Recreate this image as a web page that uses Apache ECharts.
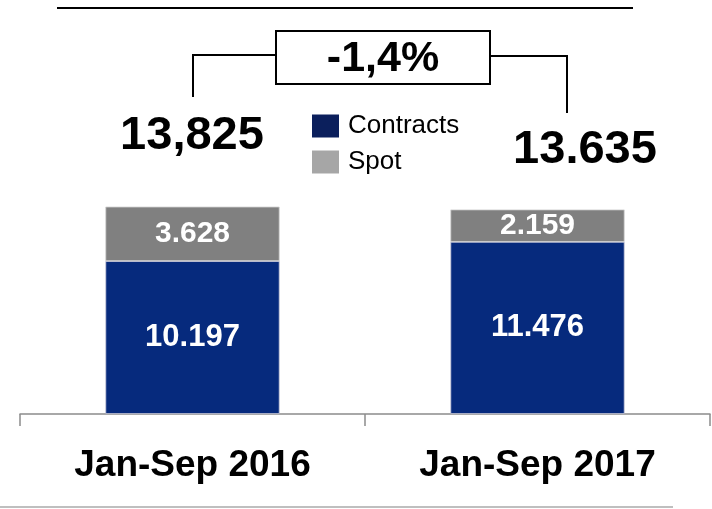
<!DOCTYPE html>
<html>
<head>
<meta charset="utf-8">
<script src="https://cdn.jsdelivr.net/npm/echarts@6/dist/echarts.min.js"></script>
<style>
html,body{margin:0;padding:0;background:#fff;}
#chart{width:712px;height:509px;}
</style>
</head>
<body>
<div id="chart"></div>
<script>
const categories = ['Jan-Sep 2016', 'Jan-Sep 2017'];
const contracts = [10197, 11476];
const spot = [3628, 2159];
const totalLabels = ['13,825', '13.635'];
const changeLabel = '-1,4%';
const seriesNames = ['Contracts', 'Spot'];

const FONT = '"Liberation Sans", Arial, sans-serif';
const fmt = v => String(v).replace(/\B(?=(\d{3})+(?!\d))/g, '.');

const chart = echarts.init(document.getElementById('chart'), null, {renderer: 'canvas'});

const option = {
  animation: false,
  backgroundColor: '#ffffff',
  textStyle: {fontFamily: FONT},
  grid: {left: 20, right: 2, top: 114, bottom: 95},
  legend: {
    orient: 'vertical',
    left: 307,
    top: 108,
    itemWidth: 27,
    itemHeight: 23,
    itemGap: 10,
    icon: 'rect',
    textStyle: {fontSize: 26, color: '#000', fontFamily: FONT, padding: [0, 0, 0, 4]},
    data: [
      {name: seriesNames[0], itemStyle: {color: '#0b1f5c', borderWidth: 0}},
      {name: seriesNames[1], itemStyle: {color: '#a6a6a6', borderWidth: 0}}
    ]
  },
  xAxis: {
    type: 'category',
    data: categories,
    axisLine: {lineStyle: {color: '#8c8c8c', width: 1.5}},
    axisTick: {show: true, length: 12, lineStyle: {color: '#8c8c8c', width: 1.5}},
    axisLabel: {fontSize: 37, fontWeight: 'bold', color: '#000', margin: 33, fontFamily: FONT}
  },
  yAxis: {
    type: 'value', min: 0, max: 20000, show: false,
    splitLine: {show: false}
  },
  series: [
    {
      name: seriesNames[0], type: 'bar', stack: 'total', data: contracts,
      barWidth: '50.5%',
      itemStyle: {color: '#062a7d', borderColor: '#c8c8d8', borderWidth: 0.8},
      label: {show: true, position: 'inside', formatter: p => fmt(p.value),
        color: '#fff', fontSize: 31, fontWeight: 'bold', fontFamily: FONT}
    },
    {
      name: seriesNames[1], type: 'bar', stack: 'total', data: spot,
      barWidth: '50.5%',
      itemStyle: {color: '#808080', borderColor: '#d0d0d0', borderWidth: 0.8},
      label: {show: true, position: 'inside', formatter: p => fmt(p.value),
        color: '#fff', fontSize: 30, fontWeight: 'bold', fontFamily: FONT}
    }
  ],
  graphic: [
    {type: 'line', shape: {x1: 57, y1: 8, x2: 633, y2: 8}, style: {stroke: '#000', lineWidth: 2}},
    {type: 'line', shape: {x1: 0, y1: 507, x2: 673, y2: 507}, style: {stroke: '#bfbfbf', lineWidth: 2}},
    {type: 'polyline', shape: {points: [[193, 97], [193, 55], [276, 55]]}, style: {stroke: '#000', lineWidth: 2, fill: null}},
    {type: 'polyline', shape: {points: [[490, 56], [567, 56], [567, 113]]}, style: {stroke: '#000', lineWidth: 2, fill: null}},
    {type: 'rect', shape: {x: 276, y: 31, width: 214, height: 53}, style: {stroke: '#000', lineWidth: 2, fill: '#fff'}},
    {type: 'text', x: 383, y: 59, style: {text: changeLabel, font: 'bold 43px ' + FONT, fill: '#000', align: 'center', verticalAlign: 'middle'}},
    {type: 'text', x: 192, y: 136, style: {text: totalLabels[0], font: 'bold 47px ' + FONT, fill: '#000', align: 'center', verticalAlign: 'middle'}},
    {type: 'text', x: 585, y: 150, style: {text: totalLabels[1], font: 'bold 47px ' + FONT, fill: '#000', align: 'center', verticalAlign: 'middle'}}
  ]
};
chart.setOption(option);
</script>
</body>
</html>
